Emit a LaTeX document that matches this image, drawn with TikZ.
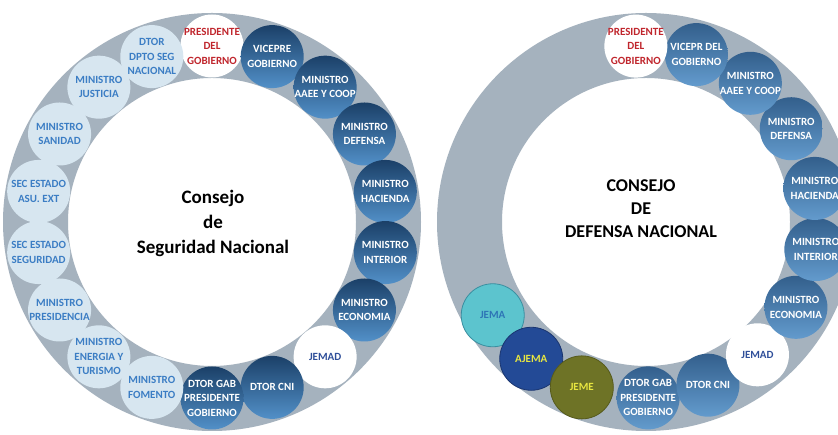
\documentclass[tikz,border=0pt]{standalone}
\usepackage{fontspec}
\usetikzlibrary{calc}
\setmainfont{Carlito}
\definecolor{ringc}{HTML}{A5B2BE}
\definecolor{ltfill}{HTML}{D7E6F0}
\definecolor{lttext}{HTML}{3B7DC4}
\definecolor{dktop}{HTML}{1B4068}
\definecolor{dkbot}{HTML}{5290C8}
\definecolor{mdtop}{HTML}{335F8C}
\definecolor{mdbot}{HTML}{639BCD}
\definecolor{prestext}{HTML}{C0262D}
\definecolor{jemadtext}{HTML}{2F4F9A}
\definecolor{jemafill}{HTML}{5CC4CE}
\definecolor{jemadraw}{HTML}{3A8FA0}
\definecolor{jematext}{HTML}{2E75B6}
\definecolor{ajemafill}{HTML}{234A96}
\definecolor{ajemadraw}{HTML}{1A3570}
\definecolor{yeltext}{HTML}{E8E640}
\definecolor{jemefill}{HTML}{6E7326}
\definecolor{jemedraw}{HTML}{565A1C}
\begin{document}
\begin{tikzpicture}[x=1pt,y=1pt,
  bub/.style={circle,minimum size=63pt,inner sep=0pt},
  lbl/.style={align=center,inner sep=0pt,font=\bfseries\fontsize{11}{14.5}\selectfont},
  pres/.style={bub,fill=white},
  prestxt/.style={lbl,text=prestext},
  dk/.style={bub,top color=dktop,bottom color=dkbot},
  dktxt/.style={lbl,text=white},
  md/.style={bub,top color=mdtop,bottom color=mdbot},
  mdtxt/.style={lbl,text=white},
  lt/.style={bub,fill=ltfill},
  lttxt/.style={lbl,text=lttext},
  jemad/.style={bub,fill=white},
  jemadtxt/.style={lbl,text=jemadtext},
  jema/.style={bub,fill=jemafill,draw=jemadraw,line width=0.8pt},
  jematxt/.style={lbl,text=jematext},
  ajema/.style={bub,fill=ajemafill,draw=ajemadraw,line width=0.8pt},
  ajematxt/.style={lbl,text=yeltext},
  jeme/.style={bub,fill=jemefill,draw=jemedraw,line width=0.8pt},
  jemetxt/.style={lbl,text=yeltext},
  title/.style={align=center,inner sep=0pt}
]
\useasboundingbox (0,0) rectangle (838,435);
\clip (0,0) rectangle (838,435);
\fill[white] (0,0) rectangle (838,435);
% left ring
\coordinate (cl) at (212,213);
\fill[ringc,even odd rule] (cl) circle[radius=209] (cl) circle[radius=144];
\foreach \a/\s/\t [count=\i] in {
  90/pres/{PRESIDENTE\\DEL\\GOBIERNO},
  70/dk/{VICEPRE\\GOBIERNO},
  50/dk/{MINISTRO\\AAEE Y COOP},
  30/dk/{MINISTRO\\DEFENSA},
  10/dk/{MINISTRO\\HACIENDA},
  -10/dk/{MINISTRO\\INTERIOR},
  -30/dk/{MINISTRO\\ECONOMIA},
  -50/jemad/{JEMAD},
  -70/dk/{DTOR CNI},
  -90/dk/{DTOR GAB\\PRESIDENTE\\GOBIERNO},
  -110/lt/{MINISTRO\\FOMENTO},
  -130/lt/{MINISTRO\\ENERGIA Y\\TURISMO},
  -150/lt/{MINISTRO\\PRESIDENCIA},
  -170/lt/{SEC ESTADO\\SEGURIDAD},
  170/lt/{SEC ESTADO\\ASU. EXT},
  150/lt/{MINISTRO\\SANIDAD},
  130/lt/{MINISTRO\\JUSTICIA},
  110/lt/{DTOR\\DPTO SEG\\NACIONAL}}
{
  \node[\s] (L\i) at ($(cl)+(\a:176)$) {};
  \node[\s txt] (Lt\i) at (L\i) {\t};
}
\node[title,font=\bfseries\fontsize{19}{25}\selectfont] (ltitle) at (213,212) {Consejo\\de\\Seguridad Nacional};
% right ring
\coordinate (cr) at (646,213);
\coordinate (cb) at (642,213);
\fill[ringc,even odd rule] (cr) circle[radius=209] (cr) circle[radius=144];
\foreach \a/\s/\t [count=\i] in {
  -148/jema/{JEMA},
  -129/ajema/{AJEMA},
  -110/jeme/{JEME},
  -88/md/{DTOR GAB\\PRESIDENTE\\GOBIERNO},
  -68/md/{DTOR CNI},
  -49/jemad/{JEMAD},
  -29/md/{MINISTRO\\ECONOMIA},
  -9/md/{MINISTRO\\INTERIOR},
  11/md/{MINISTRO\\HACIENDA},
  32/md/{MINISTRO\\DEFENSA},
  52/md/{MINISTRO\\AAEE Y COOP},
  72/md/{VICEPR DEL\\GOBIERNO},
  92/pres/{PRESIDENTE\\DEL\\GOBIERNO}}
{
  \node[\s] (R\i) at ($(cb)+(\a:176)$) {};
  \node[\s txt] (Rt\i) at (R\i) {\t};
}
\node[title,font=\bfseries\fontsize{18}{23}\selectfont] (rtitle) at (641,226) {CONSEJO\\DE\\DEFENSA NACIONAL};
\end{tikzpicture}
\end{document}
